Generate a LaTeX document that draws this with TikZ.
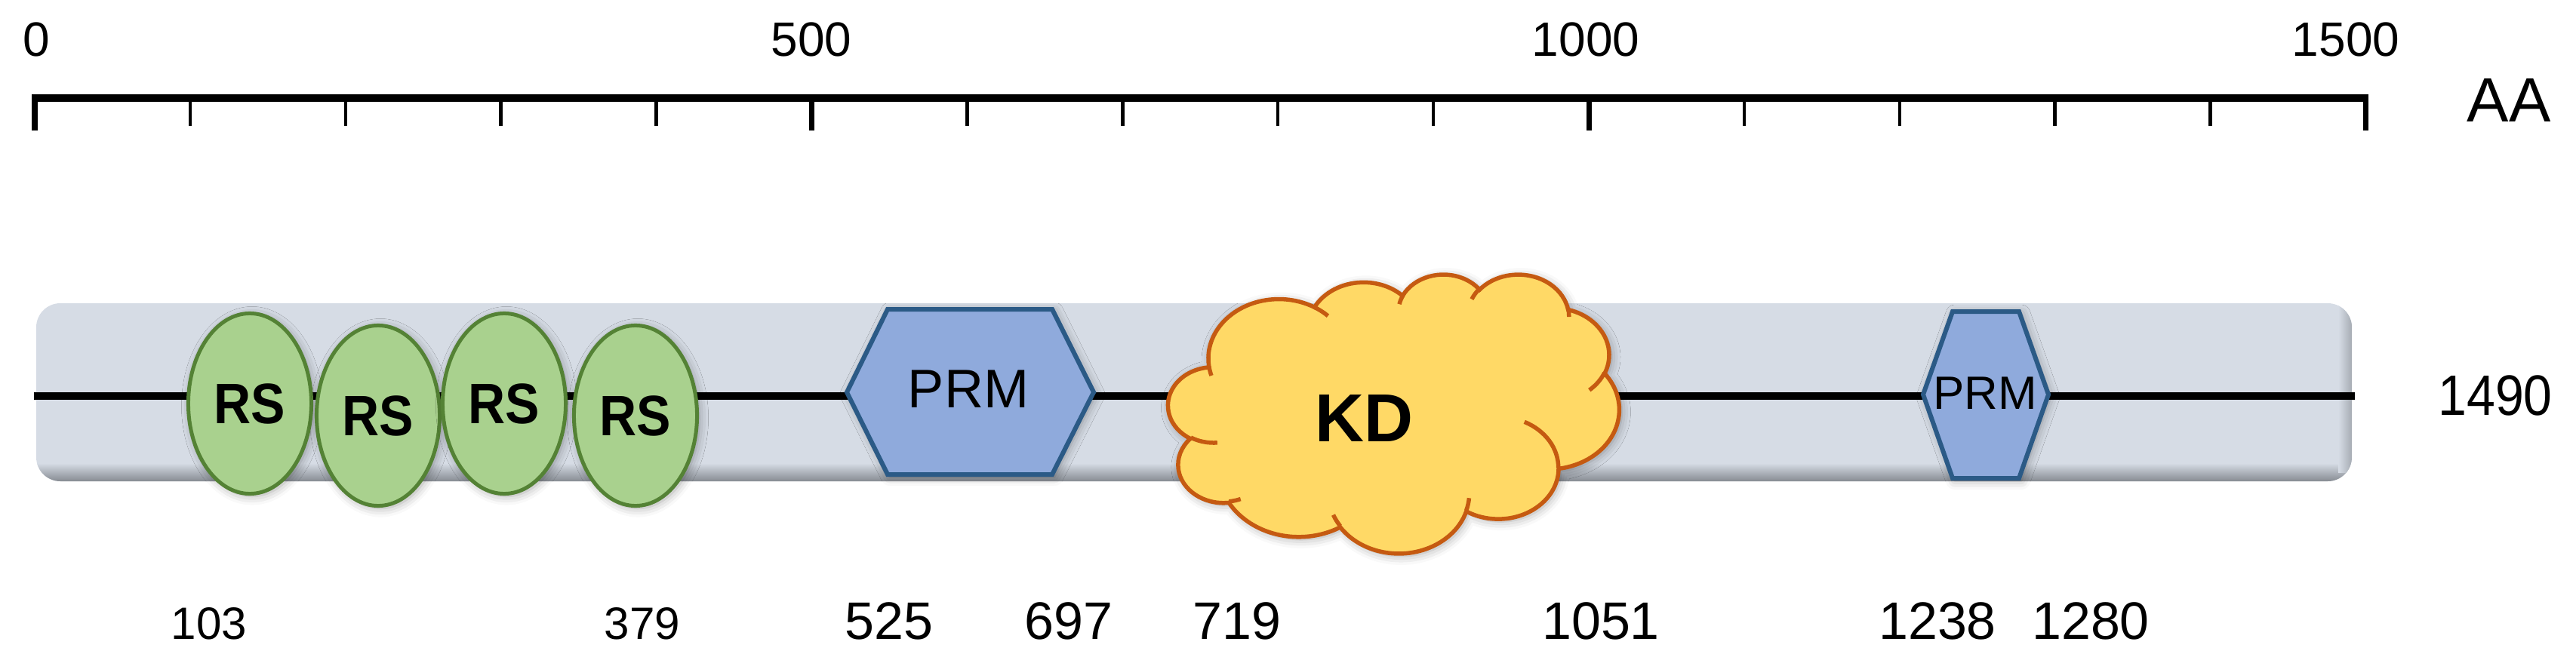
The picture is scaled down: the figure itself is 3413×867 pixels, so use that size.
\documentclass[tikz,border=0pt]{standalone}
\usepackage{fontspec}
\setmainfont{Liberation Sans}
\newfontfamily\condsans[FakeStretch=0.9]{Liberation Sans}
\usetikzlibrary{shapes.geometric,shadows.blur}
\definecolor{barc}{HTML}{D6DCE5}
\definecolor{bard}{HTML}{868B92}
\definecolor{rsfill}{HTML}{A9D18E}
\definecolor{rsline}{HTML}{548235}
\definecolor{prmfill}{HTML}{8FAADC}
\definecolor{prmline}{HTML}{2B5A86}
\definecolor{kdfill}{HTML}{FFD966}
\definecolor{kdline}{HTML}{C55A11}
% convert an OOXML arcTo (visual angles) into TikZ parametric angles
\newcommand\pptcalc[5]{%
  \pgfmathsetmacro\pptA{atan2((#2)*sin(#4),(#3)*cos(#4))}%
  \pgfmathsetmacro\pptB{atan2((#2)*sin((#4)+(#5)),(#3)*cos((#4)+(#5)))}%
  \pgfmathsetmacro\pptT{\pptB-\pptA}%
  \pgfmathsetmacro\pptT{ifthenelse(\pptT<0,\pptT+360,\pptT)}%
  \expandafter\xdef\csname pptS#1\endcsname{\pptA}%
  \expandafter\xdef\csname pptD#1\endcsname{\pptT}%
}
\tikzset{
  softshadow/.style={blur shadow={shadow xshift=0.03cm, shadow yshift=-0.03cm, shadow blur radius=0.12cm, shadow opacity=35}},
  toplab/.style={anchor=base, inner sep=0pt, font=\fontsize{18.2}{20}\selectfont},
  botlab/.style={anchor=base, inner sep=0pt, font=\fontsize{19.9}{22}\selectfont},
  botlabsm/.style={anchor=base, inner sep=0pt, font=\fontsize{17.1}{20}\selectfont},
  rsbox/.style={ellipse, draw=rsline, fill=rsfill, line width=0.05cm, minimum width=1.63cm, minimum height=2.39cm, inner sep=0pt, font=\condsans\bfseries\fontsize{21.5}{23}\selectfont, softshadow},
  hexa/.style={draw=prmline, fill=prmfill, line width=0.06cm, line join=miter, softshadow},
  cloudst/.style={draw=kdline, fill=kdfill, line width=0.055cm, softshadow},
  cloudin/.style={draw=kdline, line width=0.055cm},
  majtick/.style={line width=0.07cm},
  mintick/.style={line width=0.045cm},
}
\begin{document}
\begin{tikzpicture}[x=0.01cm,y=-0.01cm]
\useasboundingbox (0,0) rectangle (3413,867);
% arc parameters of the cloud outline
\pptcalc{a}{67.53}{91.90}{-190.48748}{123.78053}
\pptcalc{b}{53.33}{72.67}{-144.10238}{89.94523}
\pptcalc{c}{43.65}{59.45}{-145.80792}{99.72302}
\pptcalc{d}{48.57}{65.95}{-130.98607}{117.24173}
\pptcalc{e}{53.33}{72.73}{-78.70888}{109.02692}
\pptcalc{f}{67.75}{92.20}{-46.26725}{130.269}
\pptcalc{g}{57.85}{78.67}{0.62502}{114.03333}
\pptcalc{h}{67.52}{92.15}{22.4516}{115.17255}
\pptcalc{i}{77.20}{105.43}{66.24263}{75.71102}
\pptcalc{j}{43.60}{59.18}{-274.94208}{146.73557}
\pptcalc{k}{43.45}{59.45}{-246.8285}{152.51885}
\pptcalc{xa}{43.45}{59.45}{86.742}{26.4295}
\pptcalc{xb}{43.60}{59.18}{73.61047}{11.44747}
\pptcalc{xc}{67.52}{92.15}{137.62415}{14.0811}
\pptcalc{xd}{67.52}{92.15}{6.45327}{15.99835}
\pptcalc{xe}{57.85}{78.67}{-70.29235}{70.91737}
\pptcalc{xf}{53.33}{72.73}{30.31803}{27.7515}
\pptcalc{xg}{48.57}{65.95}{-13.74433}{14.8589}
\pptcalc{xh}{48.57}{65.95}{-149.18145}{18.19537}
\pptcalc{xi}{43.65}{59.45}{-163.49427}{17.68635}
\pptcalc{xj}{67.53}{91.90}{-66.70695}{12.31935}
\pptcalc{xk}{67.53}{91.90}{157.65435}{11.85817}

% ---------- scale axis ----------
\coordinate (axL) at (42,130);
\coordinate (axR) at (3138,130);
\draw[line width=0.09cm] (axL) -- (axR);
\foreach \i in {0,5,10,15}
  \draw[majtick] ({46+205.9*\i},130) -- ({46+205.9*\i},173);
\foreach \i in {1,2,3,4,6,7,8,9,11,12,13,14}
  \draw[mintick] ({46+205.9*\i},130) -- ({46+205.9*\i},167);
\node[toplab] (t0) at (48,75) {0};
\node[toplab] (t500) at (1075,75) {500};
\node[toplab] (t1000) at (2101,75) {1000};
\node[toplab] (t1500) at (3108,75) {1500};
\node[anchor=base, inner sep=0pt, font=\fontsize{23.6}{26}\selectfont] (aa) at (3324,162) {AA};

% ---------- protein bar ----------
\begin{scope}
  \clip[rounded corners=0.32cm] (48,402) rectangle (3116,638);
  \fill[barc] (48,402) rectangle (3116,638);
  \shade[top color=barc, bottom color=bard] (48,614) rectangle (3116,638);
  \shade[left color=barc, right color=bard!60!barc] (3098,402) rectangle (3116,626);
\end{scope}
\coordinate (bbL) at (45,525);
\coordinate (bbR) at (3120,525);
\draw[line width=0.1cm] (bbL) -- (bbR);
\node[anchor=base, inner sep=0pt, font=\condsans\fontsize{21.5}{23}\selectfont] (len) at (3306,550) {1490};

% ---------- RS domains ----------
\node[rsbox] (rs1) at (331,535) {RS};
\node[rsbox] (rs2) at (501,551) {RS};
\node[rsbox] (rs3) at (668,535) {RS};
\node[rsbox] (rs4) at (842,551) {RS};

% ---------- PRM domains ----------
\draw[hexa] (1122,520) -- (1176,410) -- (1394,410) -- (1449,520) -- (1394,629) -- (1176,629) -- cycle;
\node[inner sep=0pt, font=\fontsize{20.5}{22}\selectfont] (prm1) at (1283,516) {PRM};
\draw[hexa] (2548,523) -- (2587,413) -- (2675,413) -- (2714,523) -- (2675,634) -- (2587,634) -- cycle;
\node[inner sep=0pt, font=\fontsize{17.6}{20}\selectfont] (prm2) at (2630,521) {PRM};

% ---------- KD cloud ----------
\begin{scope}[shift={(1547.9,362.8)}, xscale=1.3825, yscale=0.856]
  \path[cloudst] (39.00,143.70)
    arc[start angle=\pptSa, delta angle=\pptDa, x radius=67.53, y radius=91.90]
    arc[start angle=\pptSb, delta angle=\pptDb, x radius=53.33, y radius=72.67]
    arc[start angle=\pptSc, delta angle=\pptDc, x radius=43.65, y radius=59.45]
    arc[start angle=\pptSd, delta angle=\pptDd, x radius=48.57, y radius=65.95]
    arc[start angle=\pptSe, delta angle=\pptDe, x radius=53.33, y radius=72.73]
    arc[start angle=\pptSf, delta angle=\pptDf, x radius=67.75, y radius=92.20]
    arc[start angle=\pptSg, delta angle=\pptDg, x radius=57.85, y radius=78.67]
    arc[start angle=\pptSh, delta angle=\pptDh, x radius=67.52, y radius=92.15]
    arc[start angle=\pptSi, delta angle=\pptDi, x radius=77.20, y radius=105.43]
    arc[start angle=\pptSj, delta angle=\pptDj, x radius=43.60, y radius=59.18]
    arc[start angle=\pptSk, delta angle=\pptDk, x radius=43.45, y radius=59.45]
    -- cycle;
  \draw[cloudin]
    (46.93,261.77) arc[start angle=\pptSxa, delta angle=\pptDxa, x radius=43.45, y radius=59.45]
    (69.28,348.99) arc[start angle=\pptSxb, delta angle=\pptDxb, x radius=43.60, y radius=59.18]
    (164.78,390.90) arc[start angle=\pptSxc, delta angle=\pptDxc, x radius=67.52, y radius=92.15]
    (288.27,347.51) arc[start angle=\pptSxd, delta angle=\pptDxd, x radius=67.52, y radius=92.15]
    (341.29,229.54) arc[start angle=\pptSxe, delta angle=\pptDxe, x radius=57.85, y radius=78.67]
    (417.98,153.54) arc[start angle=\pptSxf, delta angle=\pptDxf, x radius=53.33, y radius=72.73]
    (383.24,54.26) arc[start angle=\pptSxg, delta angle=\pptDxg, x radius=48.57, y radius=65.95]
    (290.78,39.52) arc[start angle=\pptSxh, delta angle=\pptDxh, x radius=48.57, y radius=65.95]
    (221.41,47.20) arc[start angle=\pptSxi, delta angle=\pptDxi, x radius=43.65, y radius=59.45]
    (140.00,51.92) arc[start angle=\pptSxj, delta angle=\pptDxj, x radius=67.53, y radius=91.90]
    (41.27,157.89) arc[start angle=\pptSxk, delta angle=\pptDxk, x radius=67.53, y radius=91.90];
\end{scope}
\node[inner sep=0pt, font=\bfseries\fontsize{25.6}{28}\selectfont] (kd) at (1807,555) {KD};

% ---------- position labels ----------
\node[botlabsm] (p103) at (277,847) {103};
\node[botlabsm] (p379) at (851,847) {379};
\node[botlab] (p525) at (1178,847) {525};
\node[botlab] (p697) at (1416,847) {697};
\node[botlab] (p719) at (1639,847) {719};
\node[botlab] (p1051) at (2121,847) {1051};
\node[botlab] (p1238) at (2567,847) {1238};
\node[botlab] (p1280) at (2770,847) {1280};
\end{tikzpicture}
\end{document}
